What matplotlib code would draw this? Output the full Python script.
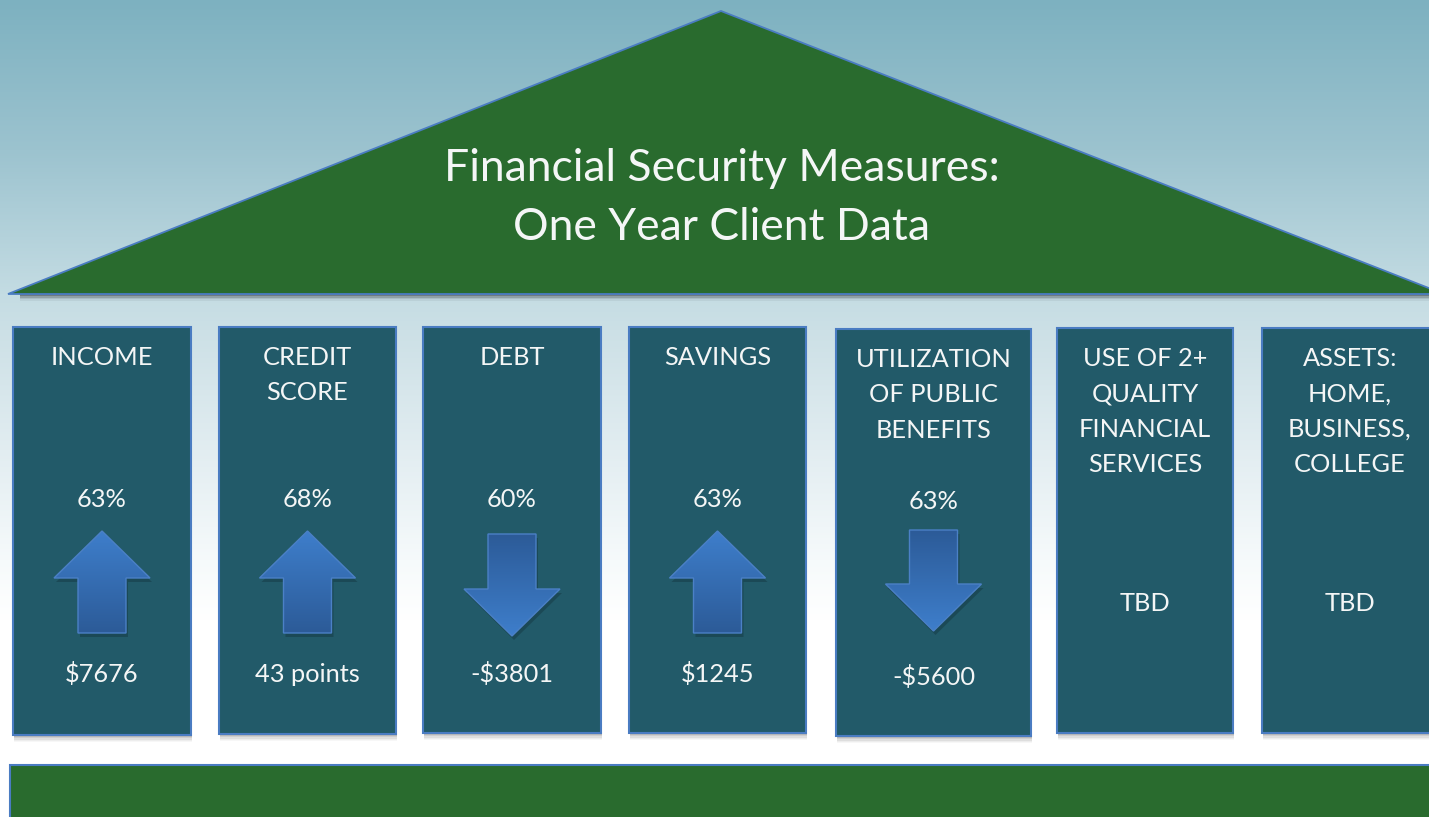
import numpy as np
import matplotlib
matplotlib.use("Agg")
import matplotlib.pyplot as plt
from matplotlib.patches import Polygon, Rectangle
from matplotlib.colors import LinearSegmentedColormap, to_rgb

# ---------------- data ----------------
title_lines = ["Financial Security Measures:", "One Year Client Data"]
categories = ["INCOME", "CREDIT\nSCORE", "DEBT", "SAVINGS",
              "UTILIZATION\nOF PUBLIC\nBENEFITS",
              "USE OF 2+\nQUALITY\nFINANCIAL\nSERVICES",
              "ASSETS:\nHOME,\nBUSINESS,\nCOLLEGE"]
percents = ["63%", "68%", "60%", "63%", "63%", None, None]
directions = ["up", "up", "down", "up", "down", None, None]
amounts = ["$7676", "43 points", "-$3801", "$1245", "-$5600", "TBD", "TBD"]

# ---------------- layout (pixels) ----------------
W, H = 1429, 817
box_left = [13, 219, 423, 629, 836, 1057, 1262]
box_top = [327, 327, 327, 327, 329, 328, 328]
box_w = [178, 177, 178, 177, 195, 176, 176]
box_h = [408, 407, 406, 406, 407, 405, 405]

FONT = "Lato"
TXT = "#F4F6F6"
BOX = "#225A69"
EDGE = "#4A7CC2"
GREEN = "#296B2E"
FS = 18.3

fig = plt.figure(figsize=(W / 100, H / 100), dpi=100)
ax = fig.add_axes([0, 0, 1, 1])
ax.set_xlim(0, W)
ax.set_ylim(H, 0)
ax.axis("off")

# background gradient
stops = [(0, "#7DB1C0"), (150, "#9CC3CF"), (294, "#C4DCE3"), (330, "#CCE0E6"),
         (450, "#E2EDF1"), (560, "#F6FAFB"), (620, "#FFFFFF"), (H, "#FFFFFF")]
ys = np.arange(H)
sy = [s[0] for s in stops]
cols = np.array([to_rgb(s[1]) for s in stops])
grad = np.stack([np.interp(ys, sy, cols[:, k]) for k in range(3)], axis=1)
img = np.repeat(grad[:, None, :], 4, axis=1)
ax.imshow(img, extent=(0, W, H, 0), aspect="auto", zorder=0, interpolation="bilinear")

def soft_shadow(x, y, w, h, z):
    for i, a in enumerate([0.10, 0.08, 0.06, 0.04, 0.03]):
        off = 2 + i * 1.3
        ax.add_patch(Rectangle((x + 1, y + off), w, h, facecolor="black",
                               alpha=a, edgecolor="none", zorder=z))

# roof
for i, a in enumerate([0.22, 0.15, 0.09, 0.05]):
    ax.add_patch(Rectangle((20, 294), 1420, 2 + i * 1.6, facecolor="black",
                           alpha=a, edgecolor="none", zorder=1))
roof = Polygon([(8, 294), (721, 11), (1444, 294)], closed=True,
               facecolor=GREEN, edgecolor=EDGE, linewidth=1.3, zorder=2)
ax.add_patch(roof)
for i, line in enumerate(title_lines):
    ax.text(722, 181 + i * 59, line, color=TXT, fontsize=32, family=FONT,
            ha="center", va="baseline", zorder=3)

# base
soft_shadow(10, 765, 1440, 60, 1)
ax.add_patch(Rectangle((10, 765), 1440, 70, facecolor=GREEN, edgecolor=EDGE,
                       linewidth=1.5, zorder=2))

# arrow colormap
arrow_cmap = LinearSegmentedColormap.from_list("arr", ["#2C5B98", "#3E7ECB"])

def draw_arrow(cx, y0, y1, direction):
    """y0 top, y1 bottom in pixels"""
    hw, sw, hl = 48, 24, 47
    if direction == "up":
        pts = [(cx, y0), (cx + hw, y0 + hl), (cx + sw, y0 + hl), (cx + sw, y1),
               (cx - sw, y1), (cx - sw, y0 + hl), (cx - hw, y0 + hl)]
        g = np.linspace(1, 0, 100)[:, None]
    else:
        pts = [(cx, y1), (cx + hw, y1 - hl), (cx + sw, y1 - hl), (cx + sw, y0),
               (cx - sw, y0), (cx - sw, y1 - hl), (cx - hw, y1 - hl)]
        g = np.linspace(0, 1, 100)[:, None]
    sh = Polygon([(p[0] + 2, p[1] + 4) for p in pts], closed=True,
                 facecolor="black", alpha=0.18, edgecolor="none", zorder=5)
    ax.add_patch(sh)
    poly = Polygon(pts, closed=True, facecolor="none", edgecolor="#4B80C6",
                   linewidth=1.0, zorder=7)
    ax.add_patch(poly)
    im = ax.imshow(g, cmap=arrow_cmap, extent=(cx - hw, cx + hw, y1, y0),
                   aspect="auto", zorder=6, interpolation="bilinear")
    im.set_clip_path(poly)

for i, cat in enumerate(categories):
    x, y, w, h = box_left[i], box_top[i], box_w[i], box_h[i]
    cx = x + w / 2
    dy = y - 327
    soft_shadow(x, y, w, h, 3)
    ax.add_patch(Rectangle((x, y), w, h, facecolor=BOX, edgecolor=EDGE,
                           linewidth=1.5, zorder=4))
    for j, line in enumerate(cat.split("\n")):
        ax.text(cx, 365 + dy + j * 35.3, line, color=TXT, fontsize=FS,
                family=FONT, ha="center", va="baseline", zorder=8)
    if percents[i] is not None:
        ax.text(cx, 507 + dy, percents[i], color=TXT, fontsize=FS,
                family=FONT, ha="center", va="baseline", zorder=8)
        if directions[i] == "up":
            draw_arrow(cx, 531 + dy, 633 + dy, "up")
        else:
            draw_arrow(cx, 534 - dy * 2, 636 - dy * 2.5, "down")
        ax.text(cx, 682 + dy * 1.5, amounts[i], color=TXT, fontsize=FS,
                family=FONT, ha="center", va="baseline", zorder=8)
    else:
        ax.text(cx, 611, amounts[i], color=TXT, fontsize=FS,
                family=FONT, ha="center", va="baseline", zorder=8)

fig.savefig("out.png", dpi=100)
